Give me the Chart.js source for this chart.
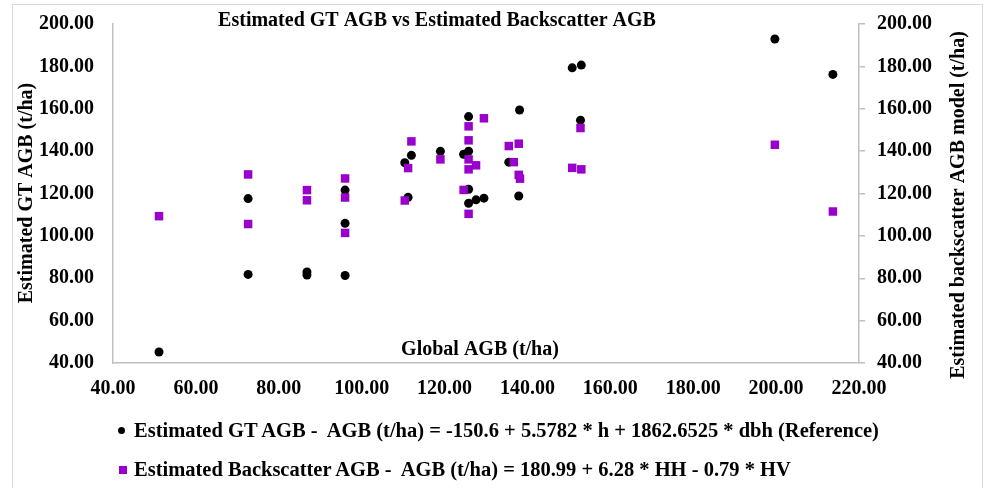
<!DOCTYPE html>
<html>
<head>
<meta charset="utf-8">
<script src="https://cdn.jsdelivr.net/npm/chart.js@4.4.0/dist/chart.umd.min.js"></script>
<style>
  html, body { margin: 0; padding: 0; background: #fff; }
  #wrap { position: relative; width: 987px; height: 488px; overflow: hidden; }
  #c { position: absolute; left: 0; top: 0; }
  .leg { position: absolute; left: 134px; font: bold 20.5px "Liberation Serif", "Times New Roman", serif; line-height: 24px; color: #000; white-space: pre; }
  .mk { position: absolute; }
</style>
</head>
<body>
<div id="wrap">
  <canvas id="c" width="987" height="488"></canvas>
  <span class="mk" style="left:118px;top:427px;width:7px;height:7px;border-radius:50%;background:#000;"></span>
  <div class="leg" id="leg1" style="top:418px;"></div>
  <span class="mk" style="left:119px;top:466px;width:8px;height:8px;background:#9900cc;"></span>
  <div class="leg" id="leg2" style="top:457px;"></div>
</div>
<script>
// Global AGB (x) vs estimated AGB
const gtX = [51.1, 72.6, 72.6, 86.8, 86.8, 96.0, 96.0, 96.0, 112.0, 110.4, 111.2, 119.0, 125.8, 124.6,
             125.8, 125.8, 125.8, 127.6, 129.5, 138.1, 135.5, 137.9, 152.8, 150.8, 153.0, 199.7, 213.7];
const gtY = [45.2, 117.6, 81.8, 83.0, 81.5, 121.6, 105.9, 81.3, 138.0, 134.5, 118.2, 139.9, 156.3, 138.5,
             140.0, 122.0, 115.4, 117.0, 117.8, 159.4, 134.8, 118.8, 154.6, 179.3, 180.6, 192.9, 176.2];

const bsX = [51.1, 72.6, 72.6, 86.8, 86.8, 96.0, 96.0, 96.0, 112.0, 111.2, 110.4, 119.0, 125.8, 125.8, 125.8,
             125.8, 127.6, 124.6, 125.8, 129.5, 135.5, 137.9, 136.7, 137.9, 138.2, 152.8, 150.8, 153.0, 199.7, 213.7];
const bsY = [109.3, 129.0, 105.6, 121.6, 116.8, 127.1, 118.1, 101.4, 144.6, 132.0, 116.7, 136.1, 151.7, 145.1, 136.1,
             131.4, 133.3, 121.7, 110.4, 155.5, 142.4, 143.5, 134.8, 128.8, 127.0, 150.9, 132.1, 131.4, 143.0, 111.5];

const xTicks = [40, 60, 80, 100, 120, 140, 160, 180, 200, 220];
const yTicks = [40, 60, 80, 100, 120, 140, 160, 180, 200];

const chartTitle = 'Estimated GT AGB vs Estimated Backscatter AGB';
const xTitle = 'Global AGB (t/ha)';
const yTitle = 'Estimated GT AGB (t/ha)';
const y1Title = 'Estimated backscatter AGB model (t/ha)';
const legendGT = 'Estimated GT AGB -  AGB (t/ha) = -150.6 + 5.5782 * h + 1862.6525 * dbh (Reference)';
const legendBS = 'Estimated Backscatter AGB -  AGB (t/ha) = 180.99 + 6.28 * HH - 0.79 * HV';

document.getElementById('leg1').textContent = legendGT;
document.getElementById('leg2').textContent = legendBS;

const SERIF = '"Liberation Serif", "Times New Roman", serif';
const AXIS = '#bfbfbf';
const tickFont = { family: SERIF, size: 20, weight: 'bold' };
const fmt = (v) => Number(v).toFixed(2);
const setTicks = (arr) => (s) => { s.ticks = arr.map((v) => ({ value: v })); };

const frame = {
  id: 'frame',
  beforeDraw(chart) {
    const ctx = chart.ctx;
    ctx.save();
    ctx.fillStyle = '#fff';
    ctx.fillRect(0, 0, chart.width, chart.height);
    ctx.strokeStyle = '#d9d9d9';
    ctx.lineWidth = 1;
    ctx.strokeRect(12.5, 4.5, 970, 500);
    ctx.restore();
  }
};

// titles that sit where Chart.js would not put them
const labels = {
  id: 'labels',
  afterDraw(chart) {
    const ctx = chart.ctx;
    ctx.save();
    ctx.fillStyle = '#000';
    ctx.font = 'bold 20px ' + SERIF;
    ctx.textAlign = 'center';
    ctx.textBaseline = 'alphabetic';
    ctx.fillText(chartTitle, 437, 26);
    ctx.fillText(xTitle, 480, 355);
    ctx.save();
    ctx.translate(32, 193);
    ctx.rotate(-Math.PI / 2);
    ctx.fillText(yTitle, 0, 0);
    ctx.restore();
    ctx.translate(964, 205);
    ctx.rotate(-Math.PI / 2);
    ctx.fillText(y1Title, 0, 0);
    ctx.restore();
  }
};

new Chart(document.getElementById('c'), {
  type: 'scatter',
  data: {
    datasets: [
      {
        label: 'Estimated GT AGB',
        data: gtX.map((x, i) => ({ x, y: gtY[i] })),
        yAxisID: 'y',
        pointStyle: 'circle',
        pointRadius: 4.5,
        backgroundColor: '#000',
        borderWidth: 0,
        order: 2
      },
      {
        label: 'Estimated Backscatter AGB',
        data: bsX.map((x, i) => ({ x, y: bsY[i] })),
        yAxisID: 'y1',
        pointStyle: 'rect',
        pointRadius: 6,
        backgroundColor: '#9900cc',
        borderWidth: 0,
        order: 1
      }
    ]
  },
  options: {
    responsive: false,
    animation: false,
    layout: { padding: { left: 39, top: 0, right: 43, bottom: 73 } },
    plugins: { legend: { display: false }, tooltip: { enabled: false } },
    scales: {
      x: {
        type: 'linear', position: 'bottom', min: 40, max: 220,
        afterBuildTicks: setTicks(xTicks),
        grid: { display: false, drawTicks: false },
        border: { color: AXIS, width: 1.5 },
        ticks: { font: tickFont, color: '#000', padding: 14, maxRotation: 0, callback: fmt }
      },
      y: {
        type: 'linear', position: 'left', min: 40, max: 200,
        afterBuildTicks: setTicks(yTicks),
        // gap between labels and axis kept as an invisible tick mark
        grid: { display: true, drawOnChartArea: false, drawTicks: true, tickLength: 19, tickColor: 'rgba(0,0,0,0)' },
        border: { color: AXIS, width: 1.5 },
        ticks: { font: tickFont, color: '#000', padding: 0, callback: fmt }
      },
      y1: {
        type: 'linear', position: 'right', min: 40, max: 200,
        afterBuildTicks: setTicks(yTicks),
        grid: { display: true, drawOnChartArea: false, drawTicks: true, tickLength: 6, color: AXIS, lineWidth: 1.5 },
        border: { color: AXIS, width: 1.5 },
        ticks: { font: tickFont, color: '#000', padding: 12, callback: fmt }
      }
    }
  },
  plugins: [frame, labels]
});
</script>
</body>
</html>
